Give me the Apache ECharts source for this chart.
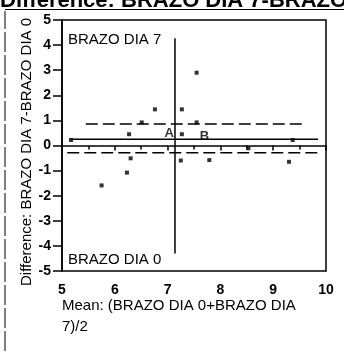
<!DOCTYPE html>
<html lang="en">
  <head>
    <meta charset="UTF-8" />
    <title>Bland-Altman</title>
    <script src="https://cdn.jsdelivr.net/npm/echarts@6/dist/echarts.min.js"></script>
    <style>
      html, body { margin: 0; padding: 0; background: #fff; }
    </style>
  </head>
  <body>
    <div id="main" style="width: 344px; height: 353px"></div>
    <script type="text/javascript">
      // mean (x) and difference (y) of each subject
      var means = [5.17, 6.27, 6.51, 6.76, 7.27, 7.27, 7.55, 7.55, 9.37, 8.53, 6.3, 7.25, 7.79, 9.3, 6.23, 5.75];
      var diffs = [0.22, 0.45, 0.92, 1.44, 1.44, 0.45, 0.92, 2.9, 0.22, -0.11, -0.51, -0.6, -0.58, -0.65, -1.08, -1.59];

      // reference lines
      var meanLine = [[5.17, 0.25], [9.85, 0.25]];
      var upperLine = [[5.45, 0.86], [9.57, 0.86]];
      var lowerLine = [[5.1, -0.29], [9.85, -0.29]];
      var zeroLine = [[5.3, 0.0], [9.45, 0.0]];
      var crossLine = [[7.14, 4.27], [7.14, -4.3]];

      var pointLabels = [
        { name: "A", value: [7.03, 0.48] },
        { name: "B", value: [7.7, 0.35] },
      ];

      var font = "Liberation Sans, Arial, sans-serif";

      function main() {
        var myChart = echarts.init(document.getElementById("main"));
        var points = [];
        for (var i = 0; i < means.length; i++) points.push([means[i], diffs[i]]);

        var option = {
          animation: false,
          backgroundColor: "#fff",
          grid: { left: 62, right: 18, top: 20, bottom: 82 },
          xAxis: {
            type: "value",
            min: 5,
            max: 10,
            interval: 1,
            axisLine: { show: true, lineStyle: { color: "#000", width: 1.5 } },
            axisTick: { show: true, length: 5, lineStyle: { color: "#000", width: 1.5 } },
            minorTick: { show: true, splitNumber: 2, length: 4, lineStyle: { color: "#000", width: 1.5 } },
            axisLabel: { color: "#000", fontSize: 14, fontWeight: "bold", fontFamily: font, margin: 12 },
            splitLine: { show: false },
          },
          yAxis: {
            type: "value",
            min: -5,
            max: 5,
            interval: 1,
            axisLine: { show: true, lineStyle: { color: "#000", width: 1.5 } },
            axisTick: { show: true, length: 9, lineStyle: { color: "#000", width: 1.5 } },
            axisLabel: { color: "#000", fontSize: 14, fontWeight: "bold", fontFamily: font, margin: 11 },
            splitLine: { show: false },
          },
          series: [
            {
              type: "line",
              data: meanLine,
              symbol: "none",
              lineStyle: { color: "#000", width: 1.5 },
            },
            {
              type: "line",
              data: upperLine,
              symbol: "none",
              lineStyle: { color: "#000", width: 1.5, type: [12, 5] },
            },
            {
              type: "line",
              data: lowerLine,
              symbol: "none",
              lineStyle: { color: "#000", width: 1.5, type: [12, 5] },
            },
            {
              type: "line",
              data: zeroLine,
              symbol: "none",
              lineStyle: { color: "#555", width: 1, type: [2, 7] },
            },
            {
              type: "line",
              data: crossLine,
              symbol: "none",
              lineStyle: { color: "#000", width: 1.5 },
            },
            {
              type: "scatter",
              data: points,
              symbol: "rect",
              symbolSize: 4,
              itemStyle: { color: "#000" },
            },
            {
              type: "scatter",
              data: pointLabels,
              symbolSize: 0,
              label: {
                show: true,
                position: "inside",
                formatter: "{b}",
                color: "#000",
                fontSize: 13,
                fontWeight: "bold",
                fontFamily: font,
              },
            },
          ],
          graphic: [
            // frame round the panel
            { type: "rect", shape: { x: 62, y: 20, width: 264, height: 251 }, style: { fill: "none", stroke: "#000", lineWidth: 1.5 } },
            { type: "line", shape: { x1: 5, y1: 9, x2: 5, y2: 353 }, style: { stroke: "#000", lineWidth: 1, lineDash: [20, 3] } },
            {
              type: "text",
              x: 27,
              y: 286,
              rotation: Math.PI / 2,
              style: {
                text: "Difference: BRAZO DIA 7-BRAZO DIA 0",
                fill: "#000",
                font: "15px " + font,
                align: "left",
                verticalAlign: "middle",
              },
            },
            { type: "rect", shape: { x: 0, y: 0, width: 344, height: 11 }, style: { fill: "#fff" } },
            { type: "line", shape: { x1: 5, y1: 9.5, x2: 344, y2: 9.5 }, style: { stroke: "#000", lineWidth: 1 } },
            {
              type: "text",
              x: 0,
              y: 12,
              style: {
                text: "Difference: BRAZO DIA 7-BRAZO DIA 0",
                fill: "#000",
                font: "bold 22px " + font,
                align: "left",
                verticalAlign: "bottom",
              },
            },
            {
              type: "text",
              x: 68,
              y: 40,
              style: { text: "BRAZO DIA 7", fill: "#000", font: "15px " + font, verticalAlign: "middle" },
            },
            {
              type: "text",
              x: 68,
              y: 260,
              style: { text: "BRAZO DIA 0", fill: "#000", font: "15px " + font, verticalAlign: "middle" },
            },
            {
              type: "text",
              x: 62,
              y: 316,
              style: {
                text: "Mean: (BRAZO DIA 0+BRAZO DIA\n7)/2",
                fill: "#000",
                font: "15px " + font,
                lineHeight: 21,
                verticalAlign: "middle",
              },
            },
          ],
        };
        myChart.setOption(option);
      }

      main();
    </script>
  </body>
</html>
